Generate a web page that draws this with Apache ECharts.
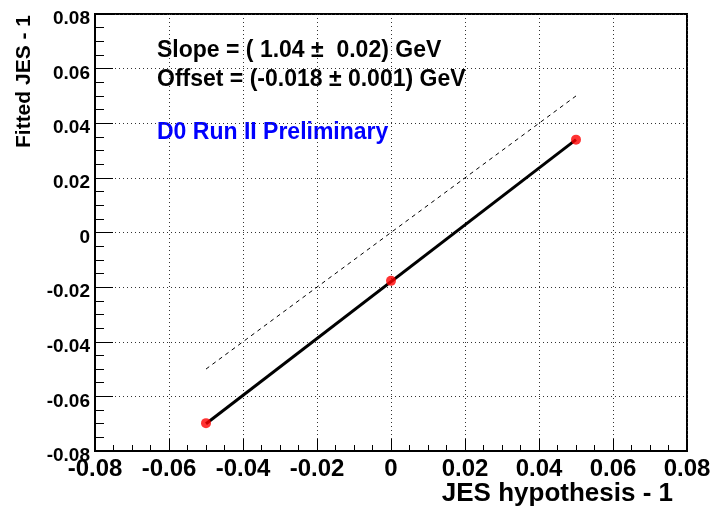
<!DOCTYPE html>
<html>
<head>
<meta charset="utf-8">
<script src="https://cdn.jsdelivr.net/npm/echarts@6/dist/echarts.min.js"></script>
<style>html,body{margin:0;padding:0;background:#fff}#c{width:717px;height:512px}</style>
</head>
<body>
<div id="c"></div>
<script>
var jesHyp = [-0.05, 0, 0.05];
var fittedJes = [-0.0698, -0.0177, 0.034];
var fitLineX = [-0.05, 0.05];
var fitLineY = [-0.070, 0.034];
var identX = [-0.05, 0.05];
var identY = [-0.05, 0.05];
var xTitle = 'JES hypothesis - 1';
var yTitle = 'Fitted JES - 1';
var texts = ['Slope = ( 1.04 \u00b1  0.02) GeV', 'Offset = (-0.018 \u00b1 0.001) GeV', 'D0 Run II Preliminary'];

function zip(a, b) { return a.map(function (v, i) { return [v, b[i]]; }); }
function fmt(v) {
  if (Math.abs(v) < 1e-9) return '0';
  return v.toFixed(2);
}
function fmtY(v) { return '{a|' + fmt(v) + '}'; }
var FONT = '"Liberation Sans", Arial, sans-serif';
var chart = echarts.init(document.getElementById('c'));
chart.setOption({
  animation: false,
  grid: { left: 95, right: 30, top: 14, bottom: 61, show: true, borderColor: '#000', borderWidth: 2, backgroundColor: 'transparent' },
  xAxis: {
    type: 'value', min: -0.08, max: 0.08, interval: 0.02,
    axisLine: { show: true, onZero: false, lineStyle: { color: '#000', width: 2 } },
    axisTick: { show: true, inside: true, length: 12, lineStyle: { color: '#000', width: 1 } },
    minorTick: { show: true, splitNumber: 4, length: 6, lineStyle: { color: '#000', width: 1 } },
    splitLine: { show: true, lineStyle: { color: '#333', type: [1, 3], width: 1 } },
    axisLabel: { formatter: fmt, fontFamily: FONT, fontWeight: 'bold', fontSize: 24, color: '#000', margin: 6, showMinLabel: true, showMaxLabel: true }
  },
  yAxis: {
    type: 'value', min: -0.08, max: 0.08, interval: 0.02,
    axisLine: { show: true, onZero: false, lineStyle: { color: '#000', width: 2 } },
    axisTick: { show: true, inside: true, length: 18, lineStyle: { color: '#000', width: 1 } },
    minorTick: { show: true, splitNumber: 4, length: 9, lineStyle: { color: '#000', width: 1 } },
    splitLine: { show: true, lineStyle: { color: '#333', type: [1, 3], width: 1 } },
    axisLabel: {
      formatter: fmtY, color: '#000', margin: 5, showMinLabel: true, showMaxLabel: true,
      rich: { a: { fontFamily: FONT, fontWeight: 'bold', fontSize: 19, color: '#000', padding: [10, 0, 0, 0] } }
    }
  },
  series: [
    { type: 'line', data: zip(identX, identY), symbol: 'none', lineStyle: { color: '#000', width: 1, type: [4, 4] }, z: 2 },
    { type: 'line', data: zip(fitLineX, fitLineY), symbol: 'none', lineStyle: { color: '#000', width: 3 }, z: 3 },
    { type: 'scatter', data: zip(jesHyp, fittedJes), symbol: 'circle', symbolSize: 10, itemStyle: { color: '#ff0000' }, z: 4 }
  ],
  graphic: [
    { type: 'text', x: 673, y: 494, style: { text: xTitle, font: 'bold 26px ' + FONT, fill: '#000', align: 'right', verticalAlign: 'middle' } },
    { type: 'text', x: 24, y: 15, rotation: Math.PI / 2, style: { text: yTitle, font: 'bold 21px ' + FONT, fill: '#000', align: 'right', verticalAlign: 'middle' } },
    { type: 'text', x: 157, y: 51, style: { text: texts[0], font: 'bold 23px ' + FONT, fill: '#000', align: 'left', verticalAlign: 'middle' } },
    { type: 'text', x: 157, y: 80, style: { text: texts[1], font: 'bold 23px ' + FONT, fill: '#000', align: 'left', verticalAlign: 'middle' } },
    { type: 'text', x: 157, y: 133, style: { text: texts[2], font: 'bold 23px ' + FONT, fill: '#0000ff', align: 'left', verticalAlign: 'middle' } }
  ]
});
</script>
</body>
</html>
